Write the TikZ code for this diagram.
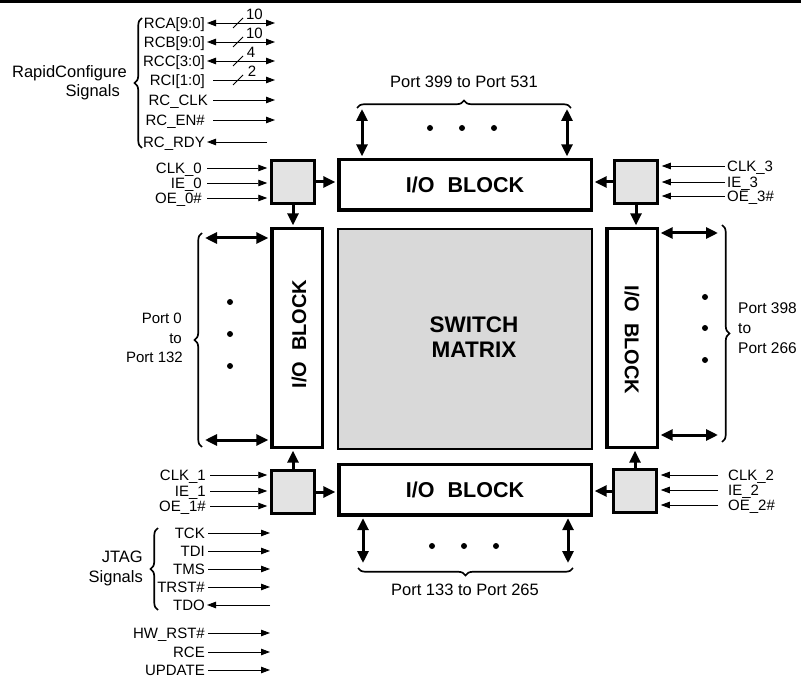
\documentclass[tikz,border=0pt]{standalone}
\usepackage{fontspec}
\setmainfont{Liberation Sans}
\usetikzlibrary{arrows.meta,decorations.pathreplacing,calc}
\begin{document}
\begin{tikzpicture}[x=1pt,y=-1pt,
  lbl/.style={inner sep=0pt, font=\fontsize{15}{18}\selectfont, text height=10.7pt, text depth=0pt},
  glbl/.style={inner sep=0pt, font=\fontsize{16.5}{19}\selectfont, text height=11.8pt, text depth=0pt},
  num/.style={inner sep=0pt, font=\fontsize{15}{17}\selectfont, text height=10.7pt, text depth=0pt},
  blk/.style={draw, line width=3.5pt, fill=white, inner sep=0pt},
  corner/.style={draw, line width=3.5pt, fill=black!11, minimum width=43pt, minimum height=43pt, inner sep=0pt},
  big/.style={inner sep=0pt, font=\fontsize{20}{25}\selectfont\bfseries},
  bigh/.style={inner sep=0pt, font=\fontsize{21.5}{25}\selectfont\bfseries},
  sig/.style={line width=0.9pt, -{Triangle[length=9pt,width=6.5pt]}},
  bsig/.style={line width=0.9pt, {Triangle[length=9pt,width=6.5pt]}-{Triangle[length=9pt,width=6.5pt]}},
  thk/.style={line width=3pt, -{Triangle[length=12pt,width=11pt]}, shorten >=1.7pt},
  bthk/.style={line width=3pt, {Triangle[length=12pt,width=11pt]}-{Triangle[length=12pt,width=11pt]}, shorten >=1.7pt},
  slash/.style={line width=0.8pt},
  brc/.style={line width=1.7pt, decorate, decoration={brace, amplitude=7.5pt}},
  dot/.style={circle, fill=black, inner sep=0pt, minimum size=6pt}
]
\useasboundingbox (0,0) rectangle (801,679);
% top rule
\coordinate (ruleL) at (0,1.5);
\coordinate (ruleR) at (801,1.5);
\draw[line width=3pt] (ruleL) -- (ruleR);

% ---------------- main blocks ----------------
\node[draw, line width=2pt, fill=black!15, minimum width=254pt, minimum height=220pt] (sw) at (465,339) {};
\node[inner sep=0pt, font=\fontsize{22.5}{25}\selectfont\bfseries, align=center] (swtxt) at (474,337) {SWITCH\\MATRIX};
\node[blk, bigh, minimum width=252.5pt, minimum height=50.5pt] (topio) at (465,185) {I/O\hspace{13pt}BLOCK};
\node[blk, bigh, minimum width=252.5pt, minimum height=50.5pt] (botio) at (465,489.5) {I/O\hspace{13pt}BLOCK};
\node[blk, minimum width=50.5pt, minimum height=218.5pt] (leftio) at (297,338) {};
\node[big, rotate=90] (lefttxt) at (299,334) {I/O\hspace{11pt}BLOCK};
\node[blk, minimum width=50.5pt, minimum height=218.5pt] (rightio) at (632,338) {};
\node[big, rotate=-90] (righttxt) at (632,340) {I/O\hspace{11pt}BLOCK};

\node[corner] (tl) at (293,182) {};
\node[corner] (tr) at (636,182) {};
\node[corner] (bl) at (293,492) {};
\node[corner] (br) at (635,491) {};

% corner box arrows
\draw[thk] (tl.east) -- (tl.east -| topio.west);
\draw[thk] (tl.south) -- (tl.south |- leftio.north);
\draw[thk] (tr.west) -- (tr.west -| topio.east);
\draw[thk] (tr.south) -- (tr.south |- rightio.north);
\draw[thk] (bl.north) -- (bl.north |- leftio.south);
\draw[thk] (bl.east) -- (bl.east -| botio.west);
\draw[thk] (br.north) -- (br.north |- rightio.south);
\draw[thk] (br.west) -- (br.west -| botio.east);

% ---------------- corner signals ----------------
\node[lbl, anchor=east] (clk0) at (202,168) {CLK\_0};
\node[lbl, anchor=east] (ie0) at (202,183) {IE\_0};
\node[lbl, anchor=east] (oe0) at (202,198) {OE\_0\#};
\foreach \n in {clk0,ie0,oe0}
  \draw[sig, shorten >=2.5pt] ([xshift=5pt]\n.east) -- (\n.east -| tl.west);

\node[lbl, anchor=east] (clk1) at (206,475) {CLK\_1};
\node[lbl, anchor=east] (ie1) at (206,491) {IE\_1};
\node[lbl, anchor=east] (oe1) at (206,506) {OE\_1\#};
\foreach \n in {clk1,ie1,oe1}
  \draw[sig, shorten >=2.5pt] ([xshift=4pt]\n.east) -- (\n.east -| bl.west);

\node[lbl, anchor=west] (clk3) at (727,166) {CLK\_3};
\node[lbl, anchor=west] (ie3) at (727,182) {IE\_3};
\node[lbl, anchor=west] (oe3) at (727,196) {OE\_3\#};
\foreach \n in {clk3,ie3,oe3}
  \draw[sig, shorten >=2.5pt] ([xshift=-2pt]\n.west) -- (\n.west -| tr.east);

\node[lbl, anchor=west] (clk2) at (728,475) {CLK\_2};
\node[lbl, anchor=west] (ie2) at (728,490) {IE\_2};
\node[lbl, anchor=west] (oe2) at (728,505) {OE\_2\#};
\foreach \n in {clk2,ie2,oe2}
  \draw[sig, shorten >=2.5pt] ([xshift=-10pt]\n.west) -- (\n.west -| br.east);

% ---------------- RapidConfigure signals ----------------
\node[lbl, anchor=east] (rca) at (205,23) {RCA[9:0]};
\node[lbl, anchor=east] (rcb) at (205,42) {RCB[9:0]};
\node[lbl, anchor=east] (rcc) at (205,61) {RCC[3:0]};
\node[lbl, anchor=east] (rci) at (205,80) {RCI[1:0]};
\node[lbl, anchor=east] (rcclk) at (208,100) {RC\_CLK};
\node[lbl, anchor=east] (rcen) at (205,120) {RC\_EN\#};
\node[lbl, anchor=east] (rcrdy) at (205,142) {RC\_RDY};
\coordinate (rcaE) at (275,23);
\coordinate (rcbE) at (275,42);
\coordinate (rccE) at (275,61);
\coordinate (rciE) at (275,80);
\coordinate (rcclkE) at (275,100);
\coordinate (rcenE) at (275,120);
\coordinate (rcrdyE) at (267,142);
\draw[bsig] ([xshift=2pt]rca.east) -- (rcaE);
\draw[bsig] ([xshift=2pt]rcb.east) -- (rcbE);
\draw[bsig] ([xshift=2pt]rcc.east) -- (rccE);
\draw[sig] ([xshift=8pt]rci.east) -- (rciE);
\draw[sig] ([xshift=5pt]rcclk.east) -- (rcclkE);
\draw[sig] ([xshift=8pt]rcen.east) -- (rcenE);
\draw[sig] (rcrdyE) -- ([xshift=2pt]rcrdy.east);
\foreach \c in {rcaE,rcbE,rccE,rciE}
  \draw[slash] ([shift={(-42,5)}]\c) -- ([shift={(-32,-5)}]\c);
\node[num] (rcan) at (254.5,14) {10};
\node[num] (rcbn) at (254.5,33) {10};
\node[num] (rccn) at (251,52) {4};
\node[num] (rcin) at (252,71) {2};
\coordinate (rcbrB) at (142,148);
\coordinate (rcbrT) at (142,18);
\draw[brc] (rcbrB) -- (rcbrT);
\node[glbl, anchor=east] (rcname1) at (127,72) {RapidConfigure};
\node[glbl, anchor=east] (rcname2) at (120,91) {Signals};

% ---------------- JTAG signals ----------------
\node[lbl, anchor=east] (tck) at (205,533) {TCK};
\node[lbl, anchor=east] (tdi) at (205,551) {TDI};
\node[lbl, anchor=east] (tms) at (205,569) {TMS};
\node[lbl, anchor=east] (trst) at (205,587) {TRST\#};
\node[lbl, anchor=east] (tdo) at (205,605) {TDO};
\node[lbl, anchor=east] (hwrst) at (205,633) {HW\_RST\#};
\node[lbl, anchor=east] (rce) at (205,652) {RCE};
\node[lbl, anchor=east] (upd) at (205,670) {UPDATE};
\foreach \n in {tck,tdi,tms,trst,hwrst,rce,upd}
  \draw[sig] ([xshift=3pt]\n.east) -- ([xshift=65pt]\n.east);
\draw[sig] ([xshift=65pt]tdo.east) -- ([xshift=2pt]tdo.east);
\coordinate (jbrB) at (158,610);
\coordinate (jbrT) at (158,528);
\draw[brc] (jbrB) -- (jbrT);
\node[glbl, anchor=east] (jname1) at (143,557) {JTAG};
\node[glbl, anchor=east] (jname2) at (143,577) {Signals};

% ---------------- top ports ----------------
\coordinate (tp1) at (362,109);
\coordinate (tp2) at (567,109);
\draw[bthk] (tp1) -- (tp1 |- topio.north);
\draw[bthk] (tp2) -- (tp2 |- topio.north);
\coordinate (tbrL) at (357,108);
\coordinate (tbrR) at (571,108);
\draw[brc] (tbrL) -- (tbrR);
\node[glbl] (ptop) at (464,82) {Port 399 to Port 531};
\node[dot] (td1) at (430,128) {};
\node[dot] (td2) at (462,128) {};
\node[dot] (td3) at (494,128) {};

% ---------------- bottom ports ----------------
\coordinate (bp1) at (363,563);
\coordinate (bp2) at (568,563);
\draw[bthk] (bp1) -- (bp1 |- botio.south);
\draw[bthk] (bp2) -- (bp2 |- botio.south);
\coordinate (bbrL) at (358,568);
\coordinate (bbrR) at (573,568);
\draw[brc] (bbrR) -- (bbrL);
\node[glbl] (pbot) at (465,590) {Port 133 to Port 265};
\node[dot] (bd1) at (432,546) {};
\node[dot] (bd2) at (464,546) {};
\node[dot] (bd3) at (496,546) {};

% ---------------- left ports ----------------
\coordinate (lp1) at (205,238);
\coordinate (lp2) at (205,440);
\draw[bthk] (lp1) -- (lp1 -| leftio.west);
\draw[bthk] (lp2) -- (lp2 -| leftio.west);
\coordinate (lbrB) at (202,447);
\coordinate (lbrT) at (202,233);
\draw[brc] (lbrB) -- (lbrT);
\node[lbl, anchor=east] (pl1) at (182,318) {Port 0};
\node[lbl, anchor=east] (pl2) at (182,338) {to};
\node[lbl, anchor=east] (pl3) at (183,357) {Port 132};
\node[dot] (ld1) at (230,302) {};
\node[dot] (ld2) at (230,334) {};
\node[dot] (ld3) at (230,366) {};

% ---------------- right ports ----------------
\coordinate (rp1) at (718,233);
\coordinate (rp2) at (718,435);
\draw[bthk] (rp1) -- (rp1 -| rightio.east);
\draw[bthk] (rp2) -- (rp2 -| rightio.east);
\coordinate (rbrT) at (722,225);
\coordinate (rbrB) at (722,442);
\draw[brc] (rbrT) -- (rbrB);
\node[lbl, anchor=west, font=\fontsize{15.5}{18}\selectfont] (pr1) at (738,308) {Port 398};
\node[lbl, anchor=west, font=\fontsize{15.5}{18}\selectfont] (pr2) at (738,328) {to};
\node[lbl, anchor=west, font=\fontsize{15.5}{18}\selectfont] (pr3) at (738,348) {Port 266};
\node[dot] (rd1) at (705,297) {};
\node[dot] (rd2) at (705,328) {};
\node[dot] (rd3) at (705,360) {};
\end{tikzpicture}
\end{document}
